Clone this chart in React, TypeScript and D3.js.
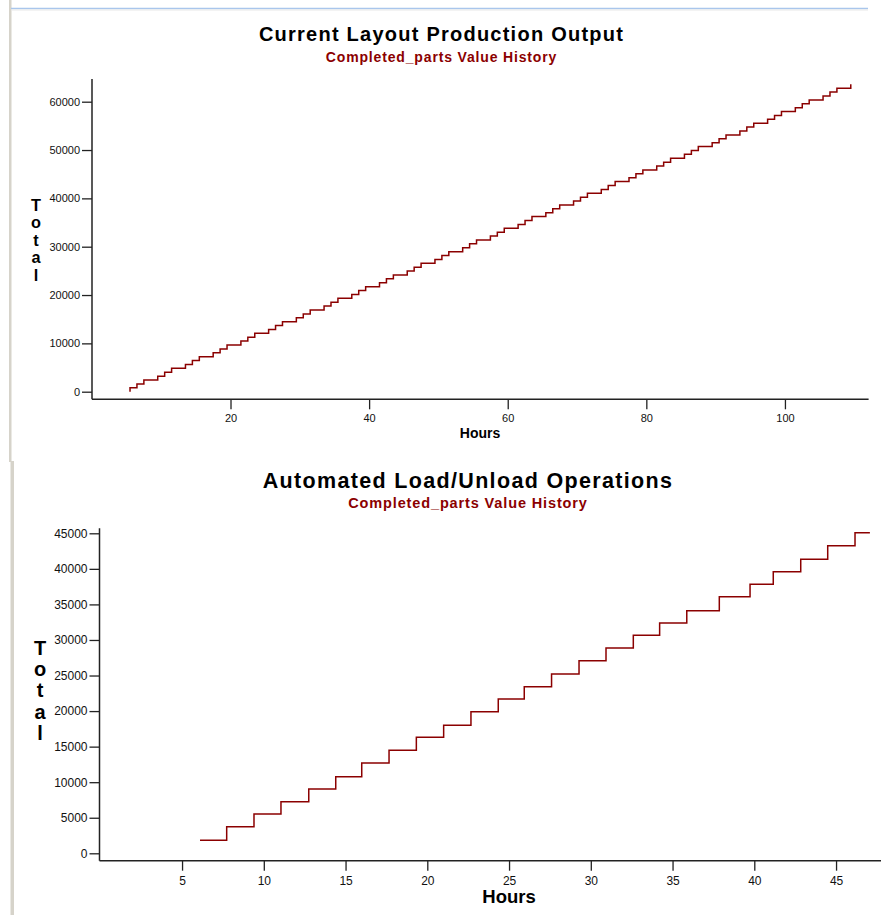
import React, { useEffect, useRef } from 'react';
import * as d3 from 'd3';

// top chart: Current Layout (step events, hours / completed parts)
const topHours = [
  5.5, 5.5, 6.5, 7.5, 9.5, 10.5, 11.5, 13.5, 14.5, 15.5, 17.5, 18.5, 19.5,
  21.5, 22.5, 23.5, 25.5, 26.5, 27.5, 29.5, 30.5, 31.5, 33.5, 34.5, 35.5,
  37.5, 38.5, 39.5, 41.5, 42.5, 43.5, 45.5, 46.5, 47.5, 49.5, 50.5, 51.5,
  53.5, 54.5, 55.5, 57.5, 58.5, 59.5, 61.5, 62.5, 63.5, 65.5, 66.5, 67.5,
  69.5, 70.5, 71.5, 73.5, 74.5, 75.5, 77.5, 78.5, 79.5, 81.5, 82.5, 83.5,
  85.5, 86.5, 87.5, 89.5, 90.5, 91.5, 93.5, 94.5, 95.5, 97.5, 98.5, 99.5,
  101.5, 102.5, 103.5, 105.5, 106.5, 107.5, 109.5,
];
const topTotals = [
  0, 805, 1610, 2415, 3220, 4025, 4830, 5635, 6440, 7245, 8050, 8855, 9660,
  10465, 11270, 12075, 12880, 13685, 14490, 15295, 16100, 16905, 17710, 18515, 19320,
  20125, 20930, 21735, 22540, 23345, 24150, 24955, 25760, 26565, 27370, 28175, 28980,
  29785, 30590, 31395, 32200, 33005, 33810, 34615, 35420, 36225, 37030, 37835, 38640,
  39445, 40250, 41055, 41860, 42665, 43470, 44275, 45080, 45885, 46690, 47495, 48300,
  49105, 49910, 50715, 51520, 52325, 53130, 53935, 54740, 55545, 56350, 57155, 57960,
  58765, 59570, 60375, 61180, 61985, 62790, 63595,
];
const topXTicks = [20, 40, 60, 80, 100];
const topYTicks = [0, 10000, 20000, 30000, 40000, 50000, 60000];

// bottom chart: Automated Load/Unload
const bottomHours = [
  6.1, 7.73, 9.4, 11.05, 12.75, 14.4, 15.99, 17.66, 19.33, 21.0, 22.67, 24.34, 25.93,
  27.6, 29.28, 30.93, 32.6, 34.21, 35.87, 37.86, 39.74, 41.16, 42.84, 44.49, 46.16, 47.07,
];
const bottomTotals = [
  1830, 3740, 5530, 7260, 9040, 10770, 12700, 14490, 16310, 18000, 19910, 21700, 23430,
  25220, 27090, 28870, 30660, 32390, 34120, 36090, 37830, 39600, 41340, 43260, 45090, 45090,
];
const bottomXTicks = [5, 10, 15, 20, 25, 30, 35, 40, 45];
const bottomYTicks = [0, 5000, 10000, 15000, 20000, 25000, 30000, 35000, 40000, 45000];

const FONT = '"Liberation Sans", Arial, sans-serif';
const RED = '#8b0000';

type Cfg = {
  hours: number[];
  totals: number[];
  xDomain: [number, number];
  xRange: [number, number];
  yDomain: [number, number];
  yRange: [number, number];
  axisX: number;
  axisTop: number;
  axisY: number;
  axisRight: number;
  xTicks: number[];
  yTicks: number[];
  tickFont: number;
  xPad: number;
  title: string;
  titleX: number;
  titleY: number;
  titleSize: number;
  subY: number;
  subSize: number;
  labelX: number;
  labelY: number;
  labelStep: number;
  labelSize: number;
  hoursX: number;
  hoursY: number;
  hoursSize: number;
};

function drawChart(g: any, c: Cfg) {
  const x = d3.scaleLinear().domain(c.xDomain).range(c.xRange);
  const y = d3.scaleLinear().domain(c.yDomain).range(c.yRange);

  g.append('text')
    .attr('x', c.titleX).attr('y', c.titleY)
    .attr('text-anchor', 'middle')
    .attr('font-size', c.titleSize).attr('font-weight', 'bold')
    .attr('letter-spacing', c.titleSize * 0.062)
    .attr('fill', '#000')
    .text(c.title);

  g.append('text')
    .attr('x', c.titleX).attr('y', c.subY)
    .attr('text-anchor', 'middle')
    .attr('font-size', c.subSize).attr('font-weight', 'bold')
    .attr('letter-spacing', c.subSize * 0.06)
    .attr('fill', RED)
    .text('Completed_parts Value History');

  // vertical "Total", one letter per line
  'Total'.split('').forEach((ch, i) => {
    g.append('text')
      .attr('x', c.labelX).attr('y', c.labelY + i * c.labelStep)
      .attr('text-anchor', 'middle')
      .attr('font-size', c.labelSize).attr('font-weight', 'bold')
      .text(ch);
  });

  const yAxis = d3.axisLeft(y).tickValues(c.yTicks).tickSize(10).tickPadding(2)
    .tickFormat(d3.format('d'));
  const ya = g.append('g').attr('transform', `translate(${c.axisX},0)`).call(yAxis);
  ya.select('.domain').remove();
  ya.selectAll('line').attr('stroke', '#222').attr('stroke-width', 1.3);
  ya.selectAll('text').attr('font-size', c.tickFont).attr('font-family', FONT).attr('fill', '#111');

  const xAxis = d3.axisBottom(x).tickValues(c.xTicks).tickSize(10).tickPadding(c.xPad)
    .tickFormat(d3.format('d'));
  const xa = g.append('g').attr('transform', `translate(0,${c.axisY})`).call(xAxis);
  xa.select('.domain').remove();
  xa.selectAll('line').attr('stroke', '#222').attr('stroke-width', 1.3);
  xa.selectAll('text').attr('font-size', c.tickFont).attr('font-family', FONT).attr('fill', '#111');

  g.append('line')
    .attr('x1', c.axisX).attr('x2', c.axisX)
    .attr('y1', c.axisTop).attr('y2', c.axisY)
    .attr('stroke', '#222').attr('stroke-width', 1.5);
  g.append('line')
    .attr('x1', c.axisX).attr('x2', c.axisRight)
    .attr('y1', c.axisY).attr('y2', c.axisY)
    .attr('stroke', '#222').attr('stroke-width', 1.5);

  g.append('text')
    .attr('x', c.hoursX).attr('y', c.hoursY)
    .attr('text-anchor', 'middle')
    .attr('font-size', c.hoursSize).attr('font-weight', 'bold')
    .text('Hours');

  const line = d3.line<number>()
    .x((d, i) => x(c.hours[i]))
    .y(d => y(d))
    .curve(d3.curveStepAfter);

  g.append('path')
    .datum(c.totals)
    .attr('d', line)
    .attr('fill', 'none')
    .attr('stroke', RED)
    .attr('stroke-width', 1.5);
}

export default function App() {
  const ref = useRef<SVGSVGElement>(null);

  useEffect(() => {
    const svg = d3.select(ref.current);
    svg.selectAll('*').remove();

    // window frame bits around the panels
    svg.append('rect').attr('x', 9).attr('y', 0).attr('width', 2.5).attr('height', 462).attr('fill', '#d6d3ca');
    svg.append('rect').attr('x', 10.5).attr('y', 461).attr('width', 3.5).attr('height', 454).attr('fill', '#d6d3ca');
    svg.append('line').attr('x1', 11).attr('x2', 868).attr('y1', 8.5).attr('y2', 8.5)
      .attr('stroke', '#a9c6ec').attr('stroke-width', 1.5);
    svg.append('line').attr('x1', 11).attr('x2', 868).attr('y1', 10).attr('y2', 10)
      .attr('stroke', '#e8e8e8').attr('stroke-width', 1);

    const g = svg.append('g').attr('font-family', FONT);

    drawChart(g.append('g'), {
      hours: topHours,
      totals: topTotals,
      xDomain: [0, 112],
      xRange: [91.9, 868.1],
      yDomain: [0, 60000],
      yRange: [391.7, 101.7],
      axisX: 92,
      axisTop: 79,
      axisY: 399.3,
      axisRight: 868.6,
      xTicks: topXTicks,
      yTicks: topYTicks,
      tickFont: 11,
      xPad: 4.5,
      title: 'Current Layout Production Output',
      titleX: 441.5,
      titleY: 41,
      titleSize: 20,
      subY: 61.5,
      subSize: 14,
      labelX: 36,
      labelY: 211,
      labelStep: 17.4,
      labelSize: 16.3,
      hoursX: 480,
      hoursY: 438,
      hoursSize: 14,
    });

    drawChart(g.append('g'), {
      hours: bottomHours,
      totals: bottomTotals,
      xDomain: [0, 50],
      xRange: [100.3, 917.8],
      yDomain: [0, 45000],
      yRange: [853.3, 533.3],
      axisX: 99.5,
      axisTop: 528.3,
      axisY: 860.7,
      axisRight: 917.8,
      xTicks: bottomXTicks,
      yTicks: bottomYTicks,
      tickFont: 12,
      xPad: 5.5,
      title: 'Automated Load/Unload Operations',
      titleX: 468,
      titleY: 488,
      titleSize: 21.5,
      subY: 508,
      subSize: 14.5,
      labelX: 40,
      labelY: 655,
      labelStep: 21.2,
      labelSize: 20,
      hoursX: 509,
      hoursY: 903.3,
      hoursSize: 18.5,
    });
  }, []);

  return (
    <svg
      ref={ref}
      width={881}
      height={915}
      style={{ position: 'absolute', left: 0, top: 0, background: '#fff' }}
    />
  );
}
